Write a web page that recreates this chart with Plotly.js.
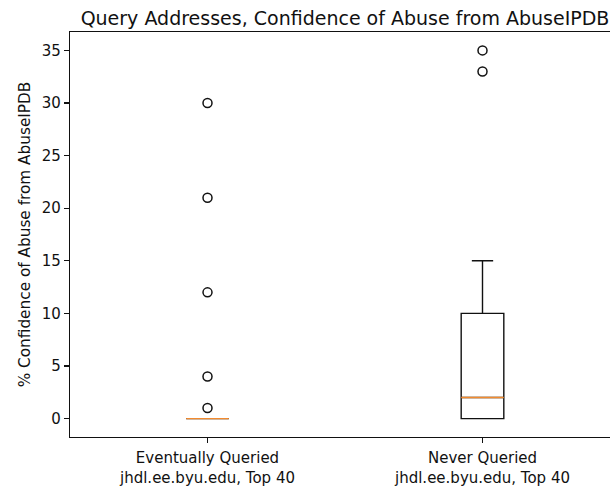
<!DOCTYPE html>
<html>
<head>
<meta charset="utf-8">
<script src="https://cdn.plot.ly/plotly-3.0.1.min.js"></script>
<style>
html, body { margin: 0; padding: 0; overflow: hidden; background: #fff; }
#chart { width: 620px; height: 486px; }
</style>
</head>
<body>
<div id="chart"></div>
<script>
// Tick labels / categories
const categories = [
  "Eventually Queried<br>jhdl.ee.byu.edu, Top 40",
  "Never Queried<br>jhdl.ee.byu.edu, Top 40"
];
// Box statistics
const q1 = [0, 0];
const medians = [0, 2];
const q3 = [0, 10];
const lowerWhisker = [0, 0];
const upperWhisker = [0, 15];
// Outliers per category
const outliersEventually = [1, 4, 12, 21, 30];
const outliersNever = [33, 35];
const yTicks = [0, 5, 10, 15, 20, 25, 30, 35];

const font = "DejaVu Sans, sans-serif";
const ink = "#111111";

const boxTrace = {
  type: "box",
  x: categories,
  q1: q1,
  median: medians,
  q3: q3,
  lowerfence: lowerWhisker,
  upperfence: upperWhisker,
  width: 0.155,
  whiskerwidth: 0.5,
  line: { color: ink, width: 1.4 },
  fillcolor: "rgba(0,0,0,0)",
  hoverinfo: "skip",
  showlegend: false
};

const medianTrace = {
  type: "box",
  x: categories,
  q1: medians,
  median: medians,
  q3: medians,
  lowerfence: medians,
  upperfence: medians,
  width: 0.155,
  whiskerwidth: 0,
  line: { color: "#f28a2e", width: 1.4 },
  fillcolor: "rgba(0,0,0,0)",
  hoverinfo: "skip",
  showlegend: false
};

function outlierTrace(cat, vals) {
  return {
    type: "scatter",
    mode: "markers",
    x: vals.map(() => cat),
    y: vals,
    marker: { symbol: "circle-open", size: 9, color: ink, line: { width: 1.5, color: ink } },
    hoverinfo: "skip",
    showlegend: false
  };
}

const data = [
  boxTrace,
  medianTrace,
  outlierTrace(categories[0], outliersEventually),
  outlierTrace(categories[1], outliersNever)
];

const layout = {
  width: 620,
  height: 486,
  margin: { l: 70, r: 0, t: 32, b: 49 },
  paper_bgcolor: "#fff",
  plot_bgcolor: "#fff",
  boxmode: "overlay",
  showlegend: false,
  font: { family: font, color: ink, size: 15 },
  title: {
    text: "Query Addresses, Confidence of Abuse from AbuseIPDB",
    font: { family: font, size: 19, color: ink },
    x: 0.5, xref: "paper", xanchor: "center",
    y: 1, yref: "paper", yanchor: "bottom",
    pad: { b: 7 }
  },
  xaxis: {
    type: "category",
    range: [-0.5, 1.5],
    showgrid: false,
    zeroline: false,
    showline: true, mirror: true, linecolor: ink, linewidth: 1.2,
    ticks: "outside", ticklen: 5, tickwidth: 1.1, tickcolor: ink,
    ticklabelstandoff: 2,
    tickfont: { family: font, size: 15, color: ink }
  },
  yaxis: {
    range: [-1.75, 36.75],
    tickvals: yTicks,
    showgrid: false,
    zeroline: false,
    showline: true, mirror: true, linecolor: ink, linewidth: 1.2,
    ticks: "outside", ticklen: 5, tickwidth: 1.1, tickcolor: ink,
    tickfont: { family: font, size: 15, color: ink },
    title: { text: "% Confidence of Abuse from AbuseIPDB", font: { family: font, size: 15.3, color: ink }, standoff: 7 }
  }
};

Plotly.newPlot("chart", data, layout, { displayModeBar: false, staticPlot: true });
</script>
</body>
</html>
